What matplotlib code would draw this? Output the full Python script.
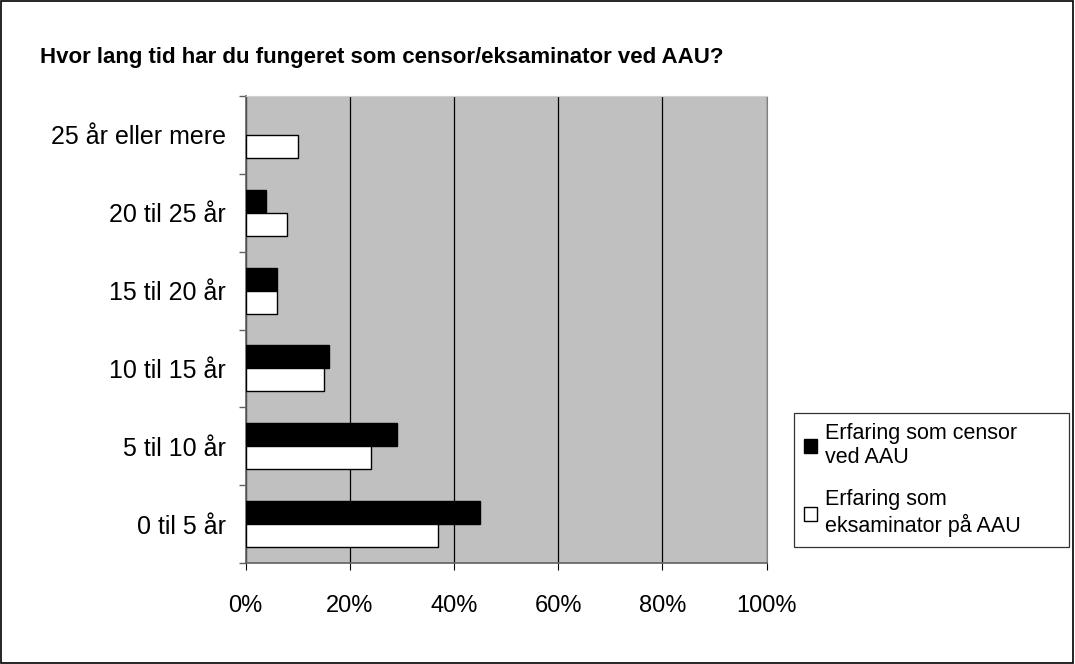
import matplotlib
matplotlib.use("Agg")
import matplotlib.pyplot as plt
from matplotlib.patches import Rectangle, Patch
import numpy as np

plt.rcParams['font.family'] = ['Liberation Sans', 'DejaVu Sans']

categories = ["0 til 5 år", "5 til 10 år", "10 til 15 år", "15 til 20 år", "20 til 25 år", "25 år eller mere"]
censor = [45, 29, 16, 6, 4, 0]
eksaminator = [37, 24, 15, 6, 8, 10]
series_names = ["Erfaring som censor\nved AAU", "Erfaring som\neksaminator på AAU"]
xticks = [0, 20, 40, 60, 80, 100]
xticklabels = ["0%", "20%", "40%", "60%", "80%", "100%"]
title = "Hvor lang tid har du fungeret som censor/eksaminator ved AAU?"

fig = plt.figure(figsize=(10.75, 6.64), dpi=100)
fig.patches.append(Rectangle((0.0005, 0.0008), 0.998, 0.998, transform=fig.transFigure,
                             fill=False, edgecolor='black', linewidth=1.2))

ax = fig.add_axes([0.2284, 0.1521, 0.4847, 0.7033])
ax.set_facecolor('#c0c0c0')

y = np.arange(len(categories))
h = 0.295
ax.barh(y + h / 2, censor, height=h, color='black', edgecolor='black',
        linewidth=[1 if v > 0 else 0 for v in censor], zorder=3)
ax.barh(y - h / 2, eksaminator, height=h, color='white', edgecolor='black',
        linewidth=[1 if v > 0 else 0 for v in eksaminator], zorder=3)

ax.set_xlim(0, 100)
ax.set_ylim(-0.5, len(categories) - 0.5)
ax.set_xticks(xticks)
ax.set_xticklabels(xticklabels, fontsize=17)
ax.xaxis.grid(True, color='black', linewidth=0.9, zorder=1)
ax.set_axisbelow(True)

ax.set_yticks(np.arange(len(categories) + 1) - 0.5)
ax.set_yticklabels([])
ax.set_yticks(y, minor=True)
ax.set_yticklabels(categories, minor=True, fontsize=18)
ax.tick_params(axis='y', which='minor', length=0, pad=14)
ax.tick_params(axis='y', which='major', length=5, color='#606060', width=1)
ax.tick_params(axis='x', length=5, color='black', width=0.8, pad=18)

for s in ['left', 'bottom']:
    ax.spines[s].set_color('#606060')
    ax.spines[s].set_linewidth(1.2)
ax.spines['top'].set_color('#d0d0d0')
ax.spines['right'].set_color('#808080')

fig.text(40 / 1075, 1 - 58 / 664, title, fontsize=16, fontweight='bold', va='center', ha='left')

handles = [Patch(facecolor='black', edgecolor='black'),
           Patch(facecolor='white', edgecolor='black')]
leg = fig.legend(handles, series_names, loc='upper left',
                 bbox_to_anchor=(794 / 1075, 1 - 413 / 664, 275 / 1075, 0.0),
                 mode='expand',
                 fontsize=15.5, frameon=True, fancybox=False, shadow=False,
                 handlelength=0.6, handleheight=0.6, handletextpad=0.4,
                 borderpad=0.45, labelspacing=1.0, borderaxespad=0)
leg.get_frame().set_edgecolor('black')
leg.get_frame().set_linewidth(0.9)

fig.savefig("out.png", dpi=100)
